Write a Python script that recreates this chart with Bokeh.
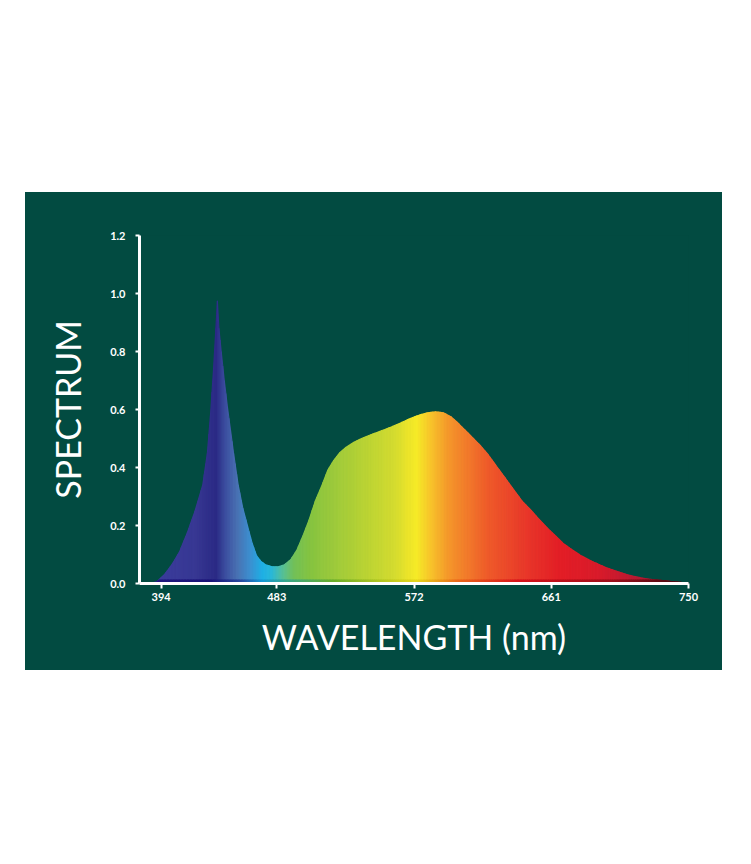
import numpy as np
from bokeh.plotting import figure
from bokeh.models import FixedTicker, PrintfTickFormatter, Spacer
from bokeh.layouts import column, row
from bokeh.embed import file_html
from bokeh.resources import INLINE

# ---------------- data ----------------
wavelength = [400, 405, 410, 415, 420, 425, 430, 435, 438, 440, 442, 443.5, 444.5,
              445.5, 447, 449, 451, 453, 455, 458, 461, 464, 467, 470, 473, 476,
              480, 484, 488, 492, 496, 500, 504, 508, 512, 516, 520, 524, 528,
              533, 538, 544, 550, 557, 563, 570, 576, 581, 586, 591, 596, 600,
              605, 610, 615, 620, 626, 631, 637, 642, 648, 653, 658, 664, 669,
              675, 680, 686, 691, 696, 702, 707, 712, 718, 723, 729, 734, 740,
              745, 750]
spectrum = [0.0, 0.005, 0.03, 0.065, 0.11, 0.175, 0.25, 0.34, 0.45, 0.58, 0.74, 0.88, 0.975,
            0.88, 0.80, 0.70, 0.61, 0.53, 0.45, 0.34, 0.26, 0.20, 0.14, 0.095, 0.075, 0.064,
            0.058, 0.058, 0.065, 0.082, 0.115, 0.165, 0.22, 0.285, 0.335, 0.39, 0.425, 0.452, 0.47,
            0.487, 0.50, 0.513, 0.525, 0.539, 0.553, 0.570, 0.582, 0.589, 0.592, 0.589, 0.575, 0.556,
            0.53, 0.503, 0.476, 0.445, 0.401, 0.365, 0.321, 0.285, 0.252, 0.222, 0.194, 0.163, 0.137,
            0.115, 0.097, 0.08, 0.068, 0.056, 0.045, 0.036, 0.028, 0.021, 0.016, 0.012, 0.010, 0.006,
            0.004, 0.002]

x_tick_labels = ["394", "483", "572", "661", "750"]
x_tick_values = [408, 483, 572, 661, 750]
y_tick_values = [0.0, 0.2, 0.4, 0.6, 0.8, 1.0, 1.2]

# ---------------- styling ----------------
BG = "#024b41"
stops_nm = [400, 430, 444, 450, 458, 466, 474, 480, 487, 494, 505, 520, 540, 560,
            569, 574, 582, 595, 608, 620, 647, 667, 693, 719, 738, 750]
stops_col = ["#3b3d9e", "#383894", "#2b2a85", "#3c4fa0", "#4a73b4", "#3c8fd0",
             "#1fb0e6", "#2ab8d8", "#55c09a", "#72c05a", "#86c440", "#9dca3c",
             "#b9d334", "#d5dc30", "#ede52a", "#f6eb27", "#f8c92b", "#f5962b",
             "#f2782b", "#ef5b2a", "#e8352a", "#e31e26", "#d91b2b", "#b51a33",
             "#7f1428", "#4a0f1a"]
# darker, more saturated band along the bottom of the fill
band_nm = [400, 440, 460, 474, 490, 520, 574, 600, 640, 700, 750]
band_col = ["#221a80", "#1b1478", "#2a4aa0", "#159bd8", "#3aa88a", "#6cae2a",
            "#e8d81c", "#ec6a1c", "#d8141c", "#a0101c", "#3a0a10"]


def hex2rgb(h):
    h = h.lstrip("#")
    return [int(h[i:i + 2], 16) for i in (0, 2, 4)]


def make_color_fn(nms, cs):
    rgb = np.array([hex2rgb(c) for c in cs], dtype=float)

    def f(nm):
        r = np.interp(nm, nms, rgb[:, 0])
        g = np.interp(nm, nms, rgb[:, 1])
        b = np.interp(nm, nms, rgb[:, 2])
        return "#%02x%02x%02x" % (int(round(r)), int(round(g)), int(round(b)))
    return f


color_at = make_color_fn(stops_nm, stops_col)
band_at = make_color_fn(band_nm, band_col)

# each straight segment of the curve is cut into thin strips (same outline)
xs, ys, cols = [], [], []
bx, by, bcols = [], [], []
for i in range(len(wavelength) - 1):
    x0, x1 = wavelength[i], wavelength[i + 1]
    y0, y1 = spectrum[i], spectrum[i + 1]
    n = max(1, int(np.ceil((x1 - x0) / 1.2)))
    for k in range(n):
        a, b = k / n, (k + 1) / n
        xa, xb = x0 + (x1 - x0) * a, x0 + (x1 - x0) * b
        ya, yb = y0 + (y1 - y0) * a, y0 + (y1 - y0) * b
        xs.append([xa, xb, xb, xa])
        ys.append([0, 0, yb, ya])
        cols.append(color_at((xa + xb) / 2))
        ba, bb = min(ya, 0.012), min(yb, 0.012)
        bx.append([xa, xb, xb, xa])
        by.append([0, 0, bb, ba])
        bcols.append(band_at((xa + xb) / 2))

p = figure(width=697, height=478, x_range=(394, 750), y_range=(0, 1.2),
           output_backend="svg", toolbar_location=None,
           min_border_left=114, min_border_right=34, min_border_top=43,
           min_border_bottom=87,
           background_fill_color=BG, border_fill_color=BG)
p.styles = {"background-color": BG}
p.outline_line_color = None
p.grid.visible = False

p.patches(xs, ys, fill_color=cols, line_color=cols, line_width=1.1)
p.patches(bx, by, fill_color=bcols, line_color=bcols, line_width=1.1)

# x axis
xa_ = p.xaxis[0]
xa_.ticker = FixedTicker(ticks=x_tick_values)
xa_.major_label_overrides = {v: l for v, l in zip(x_tick_values, x_tick_labels)}
xa_.axis_label = "WAVELENGTH (nm)"

# y axis
ya_ = p.yaxis[0]
ya_.ticker = FixedTicker(ticks=y_tick_values)
ya_.formatter = PrintfTickFormatter(format="%.1f")
ya_.axis_label = "SPECTRUM"

for ax in (xa_, ya_):
    ax.axis_line_color = "white"
    ax.axis_line_width = 3
    ax.major_tick_line_color = "white"
    ax.major_tick_line_width = 2
    ax.major_tick_in = 0
    ax.minor_tick_line_color = None
    ax.major_label_text_color = "white"
    ax.major_label_text_font = "Lato"
    ax.major_label_text_font_style = "bold"
    ax.major_label_text_font_size = "11px"
    ax.axis_label_text_color = "white"
    ax.axis_label_text_font = "Lato"
    ax.axis_label_text_font_style = "normal"
    ax.axis_label_text_font_size = "34px"

xa_.major_tick_out = 5
xa_.major_label_standoff = 4
xa_.axis_label_standoff = 12
ya_.major_tick_out = 4
ya_.major_label_standoff = 10
ya_.axis_label_standoff = 19

layout = column(Spacer(height=192), row(Spacer(width=25), p))

open("out.html", "w").write(file_html(layout, INLINE))
